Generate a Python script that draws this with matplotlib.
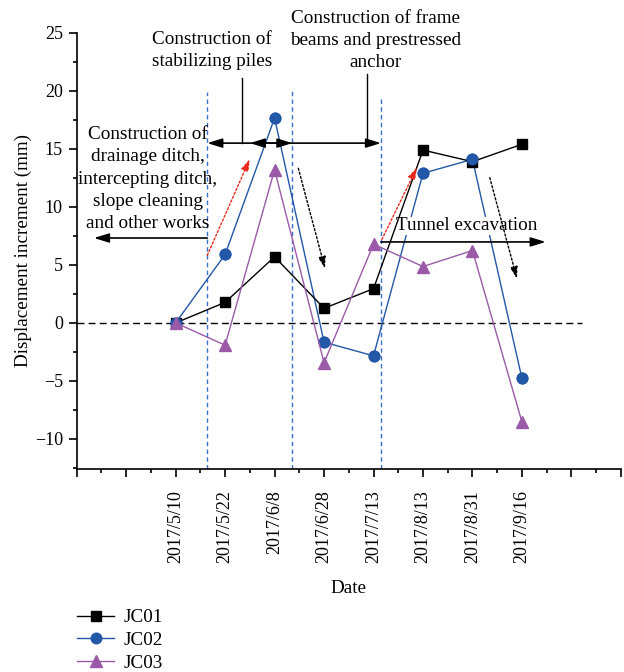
import numpy as np
import matplotlib
matplotlib.use("Agg")
import matplotlib.pyplot as plt
from matplotlib.ticker import MultipleLocator, FixedLocator

plt.rcParams['font.family'] = ['Liberation Serif', 'DejaVu Serif']

dates = ['2017/5/10', '2017/5/22', '2017/6/8', '2017/6/28',
         '2017/7/13', '2017/8/13', '2017/8/31', '2017/9/16']
jc01 = [0.0, 1.77, 5.7, 1.26, 2.95, 14.9, 13.9, 15.4]
jc02 = [0.0, 5.9, 17.66, -1.66, -2.84, 12.9, 14.1, -4.78]
jc03 = [0.0, -1.92, 13.2, -3.44, 6.79, 4.86, 6.24, -8.54]

c01 = '#000000'
c02 = '#2358a8'
c03 = '#9b5aa8'
cvl = '#3a6fd0'

fig = plt.figure(figsize=(6.24, 6.72), dpi=100)
ax = fig.add_axes([0.1229, 0.302, 0.8721, 0.649])

x = np.arange(len(dates))
ax.set_xlim(-2, 9)
ax.set_ylim(-12.6, 25)

# zero line
ax.plot([-2, 8.22], [0, 0], color='black', lw=1.0, ls=(0, (5, 3)), zorder=1)

# vertical phase lines
for xv, top in [(0.64, 19.9), (2.36, 20.1), (4.15, 19.4)]:
    ax.plot([xv, xv], [-12.6, top], color=cvl, lw=1.0, ls=(0, (3.2, 2.4)), zorder=1)

l1, = ax.plot(x, jc01, color=c01, lw=1.0, marker='s', ms=6.8, zorder=3, label='JC01')
l2, = ax.plot(x, jc02, color=c02, lw=1.0, marker='o', ms=7.6, zorder=2, label='JC02')
ax.plot(x, jc02, color=c02, lw=0, marker='o', ms=7.6, zorder=3.5)
l3, = ax.plot(x, jc03, color=c03, lw=1.0, marker='^', ms=8.5, zorder=3.6, label='JC03')

fs = 13
fa = 13.8
# horizontal phase arrows
hp = dict(arrowstyle='-|>,head_length=0.9,head_width=0.28', color='black', lw=1.2,
          shrinkA=0, shrinkB=0)
dp = dict(arrowstyle='<|-|>,head_length=0.9,head_width=0.28', color='black', lw=1.2,
          shrinkA=0, shrinkB=0)
ax.annotate('', xy=(-1.65, 7.32), xytext=(0.64, 7.32), arrowprops=hp, zorder=4)
ax.annotate('', xy=(2.36, 15.5), xytext=(0.64, 15.5), arrowprops=dp, zorder=4)
ax.annotate('', xy=(4.15, 15.5), xytext=(1.50, 15.5), arrowprops=dp, zorder=4)
ax.annotate('', xy=(7.48, 6.98), xytext=(4.15, 6.98), arrowprops=hp, zorder=4)

# label leader lines
ax.plot([1.34, 1.34], [15.5, 21.15], color='black', lw=1.0, zorder=4)
ax.plot([3.87, 3.87], [15.5, 21.5], color='black', lw=1.0, zorder=4)

# trend arrows
rp = dict(arrowstyle='-|>,head_length=0.7,head_width=0.22', color='#e8291c', lw=1.0,
          ls=(0, (1.5, 1.5)), shrinkA=0, shrinkB=0)
bp = dict(arrowstyle='-|>,head_length=0.7,head_width=0.22', color='black', lw=1.0,
          ls=(0, (1.5, 1.5)), shrinkA=0, shrinkB=0)
ax.annotate('', xy=(1.5, 14.14), xytext=(0.64, 5.83), arrowprops=rp, zorder=4)
ax.annotate('', xy=(4.88, 13.42), xytext=(4.17, 7.21), arrowprops=rp, zorder=4)
ax.annotate('', xy=(3.02, 4.68), xytext=(2.48, 13.33), arrowprops=bp, zorder=4)
ax.annotate('', xy=(6.9, 3.81), xytext=(6.35, 12.52), arrowprops=bp, zorder=4)

# texts
ax.text(-0.56, 12.4, 'Construction of\ndrainage ditch,\nintercepting ditch,\nslope cleaning\nand other works',
        ha='center', va='center', fontsize=fa, linespacing=1.4, zorder=5)
ax.text(0.73, 23.5, 'Construction of\nstabilizing piles', ha='center', va='center',
        fontsize=fa, linespacing=1.4, zorder=5, clip_on=False)
ax.text(4.05, 24.35, 'Construction of frame\nbeams and prestressed\nanchor', ha='center',
        va='center', fontsize=fa, linespacing=1.4, zorder=5, clip_on=False)
ax.text(5.88, 8.36, 'Tunnel excavation', ha='center', va='center', fontsize=fa,
        zorder=2.5, bbox=dict(facecolor='white', edgecolor='none', pad=0.5))

# axes styling
for s in ['top', 'right']:
    ax.spines[s].set_visible(False)
for s in ['left', 'bottom']:
    ax.spines[s].set_linewidth(1.2)

ax.xaxis.set_major_locator(FixedLocator(np.arange(-2, 10)))
ax.xaxis.set_minor_locator(FixedLocator(np.arange(-1.5, 9, 1.0)))
labels = [''] * 2 + dates + [''] * 2
ax.set_xticklabels(labels, rotation=90, fontsize=fs, va='top', ha='center')
ax.tick_params(axis='both', which='major', direction='out', length=6, width=1.2, labelsize=fs)
ax.tick_params(axis='both', which='minor', direction='out', length=3.2, width=1.2)
ax.tick_params(axis='x', which='major', pad=9)
ax.tick_params(axis='y', which='major', pad=4)
ax.set_yticks([-10, -5, 0, 5, 10, 15, 20, 25])
ax.set_yticklabels(['\u221210', '\u22125', '0', '5', '10', '15', '20', '25'])
ax.yaxis.set_minor_locator(MultipleLocator(2.5))
ax.set_xlabel('Date', fontsize=fa, labelpad=12)
ax.set_ylabel('Displacement increment (mm)', fontsize=fa, labelpad=2)

fig.legend(handles=[l1, l2, l3], loc='upper left', bbox_to_anchor=(0.124, 0.094),
           frameon=False, fontsize=fa, handlelength=1.9, handletextpad=0.5,
           labelspacing=0.28, borderaxespad=0, borderpad=0)

fig.savefig('out.png', dpi=100)
